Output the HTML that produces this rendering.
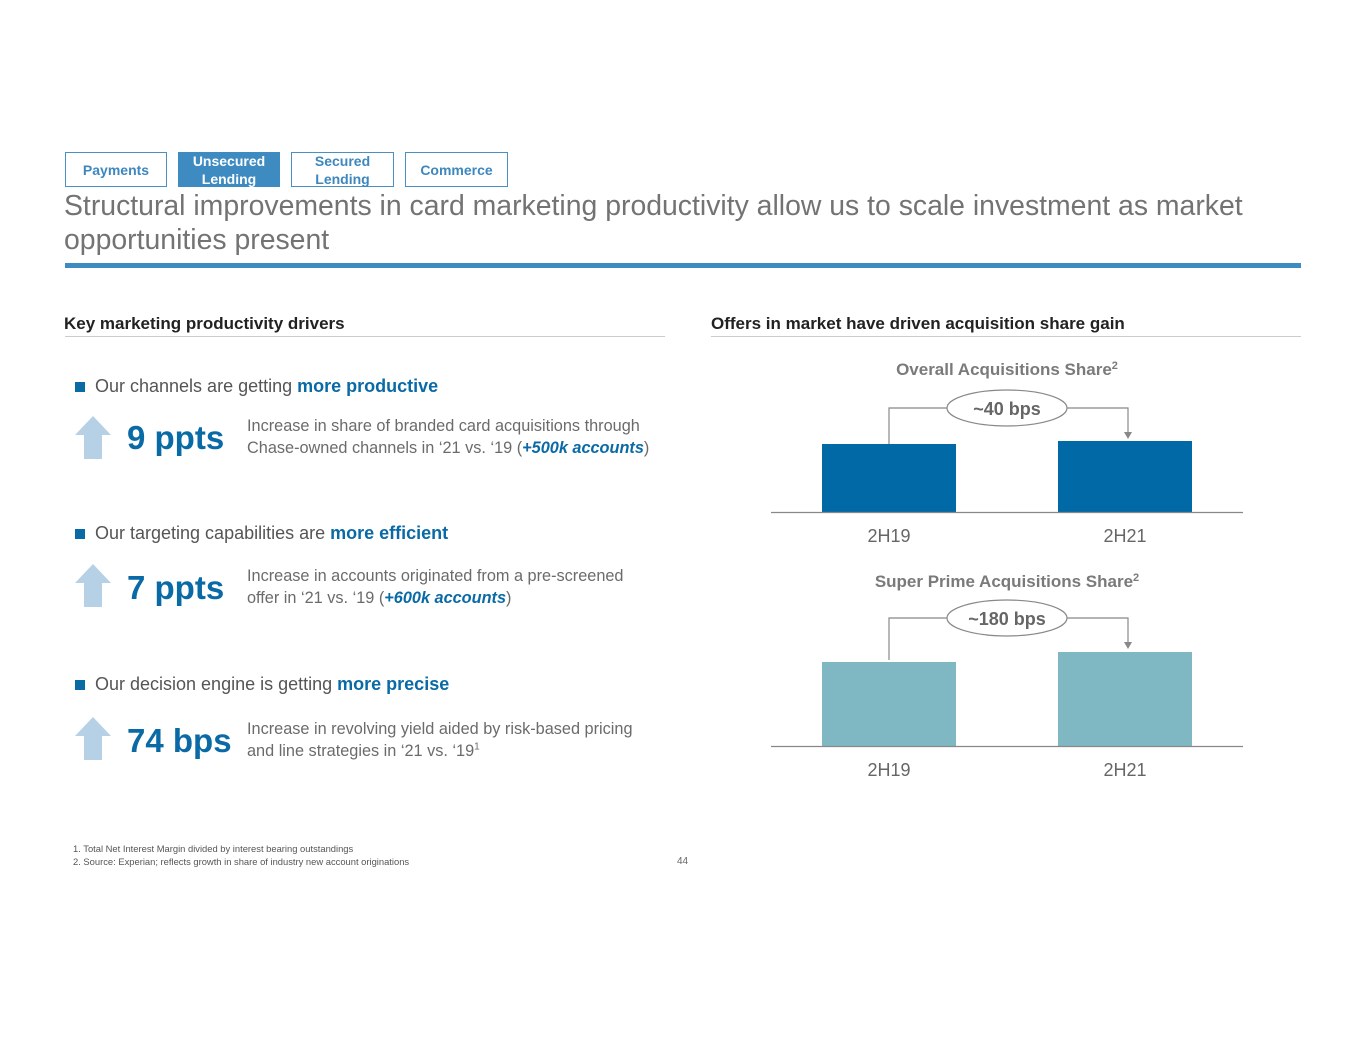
<!DOCTYPE html>
<html><head><meta charset="utf-8"><style>
body{margin:0;width:1365px;height:1055px;background:#fff;font-family:"Liberation Sans",Arial,sans-serif;position:relative;overflow:hidden}
.a{position:absolute;white-space:nowrap}
.tab{position:absolute;top:152px;height:35px;width:100px;border:1px solid #4a90c4;color:#3d87bf;font-weight:bold;font-size:14px;text-align:center;display:flex;align-items:center;justify-content:center;line-height:18px;box-sizing:border-box}
.b{color:#0a6aa6;font-weight:bold}
.sq{position:absolute;width:10px;height:10px;background:#0a6aa6}
.big{position:absolute;color:#0a6aa6;font-weight:bold;font-size:33px}
.d{position:absolute;color:#6b6b6b;font-size:16.3px;line-height:22px;white-space:nowrap}
.d sup{font-size:10px;line-height:0}
.bl{font-size:18px;color:#555}
</style></head><body>
<div class="tab" style="left:65px;width:102px">Payments</div>
<div class="tab" style="left:178px;width:102px;background:#3d8bc1;color:#fff;border-color:#3d8bc1">Unsecured<br>Lending</div>
<div class="tab" style="left:291px;width:103px">Secured<br>Lending</div>
<div class="tab" style="left:405px;width:103px">Commerce</div>
<div class="a" style="left:64px;top:189px;font-size:28.4px;color:#737373;line-height:34px">Structural improvements in card marketing productivity allow us to scale investment as market<br>opportunities present</div>
<div class="a" style="left:65px;top:263px;width:1236px;height:5px;background:#3d8bc1"></div>
<div class="a" style="left:64px;top:314px;font-size:17px;font-weight:bold;color:#222">Key marketing productivity drivers</div>
<div class="a" style="left:711px;top:314px;font-size:17px;font-weight:bold;color:#222">Offers in market have driven acquisition share gain</div>
<div class="a" style="left:65px;top:336px;width:600px;height:1px;background:#ccc"></div>
<div class="a" style="left:711px;top:336px;width:590px;height:1px;background:#ccc"></div>

<div class="sq" style="left:75px;top:382px"></div>
<div class="a bl" style="left:95px;top:376px">Our channels are getting <span class="b">more productive</span></div>
<div class="sq" style="left:75px;top:529px"></div>
<div class="a bl" style="left:95px;top:523px">Our targeting capabilities are <span class="b">more efficient</span></div>
<div class="sq" style="left:75px;top:680px"></div>
<div class="a bl" style="left:95px;top:674px">Our decision engine is getting <span class="b">more precise</span></div>

<svg class="a" style="left:74px;top:416px" width="38" height="44"><polygon points="19,0 37,19 28,19 28,43 10,43 10,19 1,19" fill="#b6d1e6"/></svg>
<svg class="a" style="left:74px;top:564px" width="38" height="44"><polygon points="19,0 37,19 28,19 28,43 10,43 10,19 1,19" fill="#b6d1e6"/></svg>
<svg class="a" style="left:74px;top:717px" width="38" height="44"><polygon points="19,0 37,19 28,19 28,43 10,43 10,19 1,19" fill="#b6d1e6"/></svg>

<div class="big" style="left:127px;top:419px">9 ppts</div>
<div class="big" style="left:127px;top:569px">7 ppts</div>
<div class="big" style="left:127px;top:722px">74 bps</div>
<div class="d" style="left:247px;top:415px">Increase in share of branded card acquisitions through<br>Chase-owned channels in ‘21 vs. ‘19 (<i class="b">+500k accounts</i>)</div>
<div class="d" style="left:247px;top:565px">Increase in accounts originated from a pre-screened<br>offer in ‘21 vs. ‘19 (<i class="b">+600k accounts</i>)</div>
<div class="d" style="left:247px;top:718px">Increase in revolving yield aided by risk-based pricing<br>and line strategies in ‘21 vs. ‘19<sup>1</sup></div>

<svg class="a" style="left:0;top:0" width="1365" height="1055" font-family="Liberation Sans, Arial, sans-serif">
<text x="1007" y="375" text-anchor="middle" font-size="17" font-weight="bold" fill="#7a7a7a">Overall Acquisitions Share<tspan font-size="11" dy="-6">2</tspan></text>
<polyline points="889,444 889,408 948,408" fill="none" stroke="#888" stroke-width="1.2"/>
<polyline points="1066,408 1128,408 1128,434" fill="none" stroke="#888" stroke-width="1.2"/>
<polygon points="1124,432 1132,432 1128,439" fill="#888"/>
<ellipse cx="1007" cy="408" rx="60" ry="18" fill="#fff" stroke="#888" stroke-width="1.2"/>
<text x="1007" y="415" text-anchor="middle" font-size="18" font-weight="bold" fill="#666">~40 bps</text>
<rect x="822" y="444" width="134" height="68" fill="#0069a6"/>
<rect x="1058" y="441" width="134" height="71" fill="#0069a6"/>
<line x1="771" y1="512.5" x2="1243" y2="512.5" stroke="#888" stroke-width="1.2"/>
<text x="889" y="542" text-anchor="middle" font-size="18" fill="#666">2H19</text>
<text x="1125" y="542" text-anchor="middle" font-size="18" fill="#666">2H21</text>

<text x="1007" y="587" text-anchor="middle" font-size="17" font-weight="bold" fill="#7a7a7a">Super Prime Acquisitions Share<tspan font-size="11" dy="-6">2</tspan></text>
<polyline points="889,660 889,618 948,618" fill="none" stroke="#888" stroke-width="1.2"/>
<polyline points="1066,618 1128,618 1128,644" fill="none" stroke="#888" stroke-width="1.2"/>
<polygon points="1124,642 1132,642 1128,649" fill="#888"/>
<ellipse cx="1007" cy="618" rx="60" ry="18" fill="#fff" stroke="#888" stroke-width="1.2"/>
<text x="1007" y="625" text-anchor="middle" font-size="18" font-weight="bold" fill="#666">~180 bps</text>
<rect x="822" y="662" width="134" height="84" fill="#7fb8c3"/>
<rect x="1058" y="652" width="134" height="94" fill="#7fb8c3"/>
<line x1="771" y1="746.5" x2="1243" y2="746.5" stroke="#888" stroke-width="1.2"/>
<text x="889" y="776" text-anchor="middle" font-size="18" fill="#666">2H19</text>
<text x="1125" y="776" text-anchor="middle" font-size="18" fill="#666">2H21</text>

<text x="73" y="852" font-size="9.4" fill="#555">1. Total Net Interest Margin divided by interest bearing outstandings</text>
<text x="73" y="865" font-size="9.4" fill="#555">2. Source: Experian; reflects growth in share of industry new account originations</text>
<text x="677" y="864" font-size="10" fill="#666">44</text>
</svg>
</body></html>
